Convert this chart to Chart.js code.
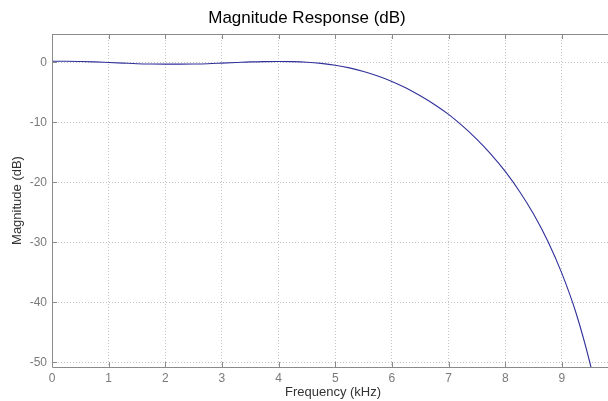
<!DOCTYPE html>
<html>
<head>
<meta charset="utf-8">
<title>Magnitude Response (dB)</title>
<script src="https://cdn.jsdelivr.net/npm/chart.js"></script>
<style>
  html, body { margin: 0; padding: 0; background: #fff; overflow: hidden; }
  #wrap { width: 640px; height: 401px; }
</style>
</head>
<body>
<div id="wrap"><canvas id="chart" width="640" height="401"></canvas></div>
<script>
// frequency (kHz) and magnitude (dB)
const freqKHz = [0, 0.25, 0.5, 0.75, 1, 1.25, 1.5, 1.75, 2, 2.25, 2.5, 2.75, 3, 3.25,
  3.5, 3.75, 4, 4.25, 4.5, 4.75, 5, 5.25, 5.5, 5.75, 6, 6.25, 6.5, 6.75, 7, 7.25,
  7.5, 7.75, 8, 8.25, 8.5, 8.75, 9, 9.25, 9.5, 9.6];
const magDb = [0.15, 0.15, 0.12, 0.05, -0.05, -0.15, -0.25, -0.3, -0.32, -0.32, -0.3,
  -0.25, -0.15, -0.05, 0.05, 0.1, 0.12, 0.1, 0.0, -0.2, -0.5, -0.95, -1.55, -2.3,
  -3.2, -4.3, -5.6, -7.05, -8.7, -10.65, -12.85, -15.35, -18.2, -21.5, -25.3, -29.8,
  -35.2, -41.8, -50.3, -54.5];

const xTicks = [0, 1, 2, 3, 4, 5, 6, 7, 8, 9];
const yTicks = [0, -10, -20, -30, -40, -50];

const axisColor = "#8a8a8a";
const font = "'Liberation Sans', Arial, Helvetica, sans-serif";

// MATLAB-like box and inward tick marks
const boxPlugin = {
  id: "box",
  afterDraw(chart) {
    const { ctx, chartArea: a, scales } = chart;
    ctx.save();
    ctx.strokeStyle = axisColor;
    ctx.lineWidth = 1;
    ctx.beginPath();
    ctx.moveTo(a.left + 0.5, a.top + 0.5);
    ctx.lineTo(a.right, a.top + 0.5);
    ctx.moveTo(a.left + 0.5, a.top);
    ctx.lineTo(a.left + 0.5, a.bottom + 0.5);
    ctx.lineTo(a.right, a.bottom + 0.5);
    xTicks.forEach(v => {
      const px = Math.round(scales.x.getPixelForValue(v)) + 0.5;
      ctx.moveTo(px, a.bottom);
      ctx.lineTo(px, a.bottom - 5);
      ctx.moveTo(px, a.top);
      ctx.lineTo(px, a.top + 5);
    });
    yTicks.forEach(v => {
      const py = Math.round(scales.y.getPixelForValue(v)) + 0.5;
      ctx.moveTo(a.left, py);
      ctx.lineTo(a.left + 5, py);
    });
    ctx.stroke();
    ctx.restore();
  }
};

const points = freqKHz.map((f, i) => ({ x: f, y: magDb[i] }));

new Chart(document.getElementById("chart"), {
  type: "line",
  data: {
    datasets: [{
      data: points,
      borderColor: "#30309a",
      borderWidth: 1.1,
      pointRadius: 0,
      cubicInterpolationMode: "monotone",
      fill: false
    }]
  },
  options: {
    responsive: false,
    animation: false,
    devicePixelRatio: 1,
    layout: { padding: { left: 0, right: 26, top: 0, bottom: 0 } },
    plugins: {
      legend: { display: false },
      tooltip: { enabled: false },
      title: {
        display: true,
        text: "Magnitude Response (dB)",
        color: "#000",
        font: { family: font, size: 17, weight: "normal" },
        padding: { top: 8, bottom: 5.6 }
      }
    },
    scales: {
      x: {
        type: "linear",
        min: 0,
        max: 9.92,
        afterFit: s => { s.height = 34; },
        ticks: {
          stepSize: 1,
          includeBounds: false,
          color: "#7a7a7a",
          font: { family: font, size: 12 },
          padding: 4,
          maxRotation: 0
        },
        grid: { color: "#c4c4c4", drawTicks: false },
        border: { display: false, dash: [1, 2] },
        title: {
          display: true,
          text: "Frequency (kHz)",
          color: "#333",
          font: { family: font, size: 13 },
          padding: { top: 0, bottom: 1 }
        }
      },
      y: {
        type: "linear",
        min: -50.8,
        max: 4.7,
        afterFit: s => { s.width = 52; },
        ticks: {
          stepSize: 10,
          includeBounds: false,
          color: "#7a7a7a",
          font: { family: font, size: 12 },
          padding: 5
        },
        grid: { color: "#c4c4c4", drawTicks: false },
        border: { display: false, dash: [1, 2] },
        title: {
          display: true,
          text: "Magnitude (dB)",
          color: "#333",
          font: { family: font, size: 13 },
          padding: { top: 10, bottom: 0 }
        }
      }
    }
  },
  plugins: [boxPlugin]
});
</script>
</body>
</html>
